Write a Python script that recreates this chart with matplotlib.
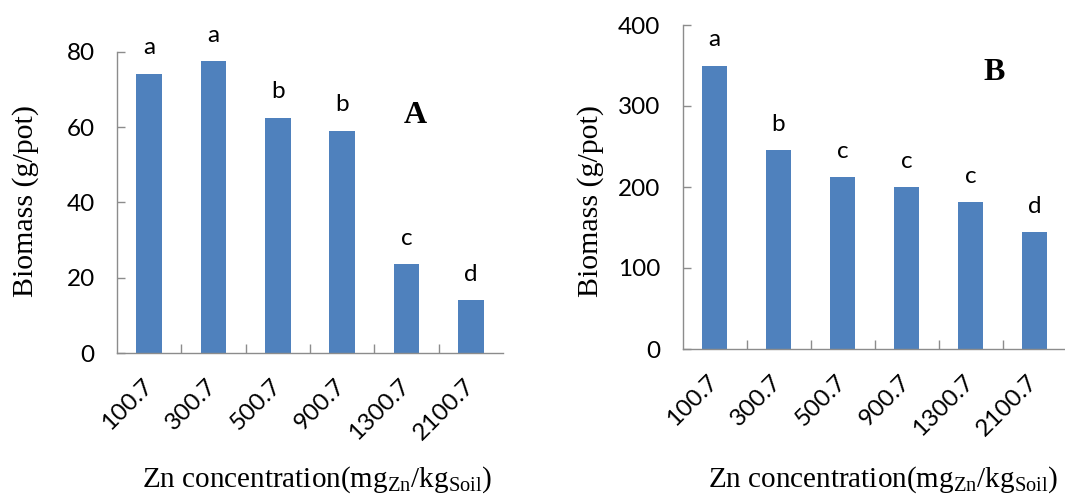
import matplotlib
matplotlib.use("Agg")
import matplotlib.pyplot as plt
import numpy as np

plt.rcParams['mathtext.fontset'] = 'custom'
plt.rcParams['mathtext.rm'] = 'Liberation Serif'
plt.rcParams['mathtext.it'] = 'Liberation Serif:italic'

categories = ["100.7", "300.7", "500.7", "900.7", "1300.7", "2100.7"]
biomass_A = [74.2, 77.5, 62.5, 59.1, 23.6, 14.1]
letters_A = ["a", "a", "b", "b", "c", "d"]
biomass_B = [349.8, 245.7, 212.3, 199.6, 181.1, 144.4]
letters_B = ["a", "b", "c", "c", "c", "d"]

bar_color = "#4F81BD"
axis_color = "#8C8C8C"
sans = "Lato"
serif = "Liberation Serif"

W, H = 1065, 494
fig = plt.figure(figsize=(W / 100, H / 100), dpi=100)


def px_axes(left, right, top, bottom):
    return fig.add_axes([left / W, 1 - bottom / H, (right - left) / W, (bottom - top) / H])


def draw(ax, values, letters, ymax, ystep, panel, panel_xy, ylab_xy):
    x = np.arange(len(categories))
    ax.bar(x, values, width=0.4, color=bar_color, zorder=2)
    ax.set_xlim(-0.5, len(categories) - 0.5)
    ax.set_ylim(0, ymax)
    for s in ("top", "right"):
        ax.spines[s].set_visible(False)
    for s in ("left", "bottom"):
        ax.spines[s].set_color(axis_color)
        ax.spines[s].set_linewidth(1.0)
    ax.set_yticks(np.arange(0, ymax + 1, ystep))
    ax.tick_params(axis="y", direction="in", length=6, width=1, color=axis_color,
                   pad=16, labelsize=17.5)
    for lab in ax.get_yticklabels():
        lab.set_fontfamily(sans)
    ax.set_xticks(x)
    ax.set_xticklabels(categories, rotation=45, ha="right", va="center",
                       rotation_mode="anchor", fontsize=17.5, fontfamily=sans)
    ax.tick_params(axis="x", which="major", length=0, pad=21)
    ax.set_xticks(np.arange(0.5, len(categories) - 0.5, 1), minor=True)
    ax.tick_params(axis="x", which="minor", direction="in", length=6.5, width=1,
                   color=axis_color)
    for xi, v, l in zip(x, values, letters):
        ax.annotate(l, (xi, v), xytext=(0, 14), textcoords="offset points",
                    ha="center", va="baseline", fontsize=17.5, fontfamily=sans)
    fig.text(panel_xy[0] / W, 1 - panel_xy[1] / H, panel, ha="center", va="center",
             fontsize=23, fontweight="bold", fontfamily=serif)
    fig.text(ylab_xy[0] / W, 1 - ylab_xy[1] / H, "Biomass (g/pot)", rotation=90,
             ha="center", va="center", fontsize=21.5, fontfamily=serif)


xlabel = r"Zn concentration(mg$_{\mathrm{Zn}}$/kg$_{\mathrm{Soil}}$)"

axA = px_axes(117, 503, 52, 353)
draw(axA, biomass_A, letters_A, 80, 20, "A", (415, 115), (26, 201))
fig.text(142 / W, 1 - 487 / H, xlabel, ha="left", va="baseline", fontsize=21,
         fontfamily=serif)

axB = px_axes(682.5, 1066.5, 25, 349)
draw(axB, biomass_B, letters_B, 400, 100, "B", (994, 73), (591, 201))
fig.text(708 / W, 1 - 487 / H, xlabel, ha="left", va="baseline", fontsize=21,
         fontfamily=serif)

fig.savefig("out.png", dpi=100)
